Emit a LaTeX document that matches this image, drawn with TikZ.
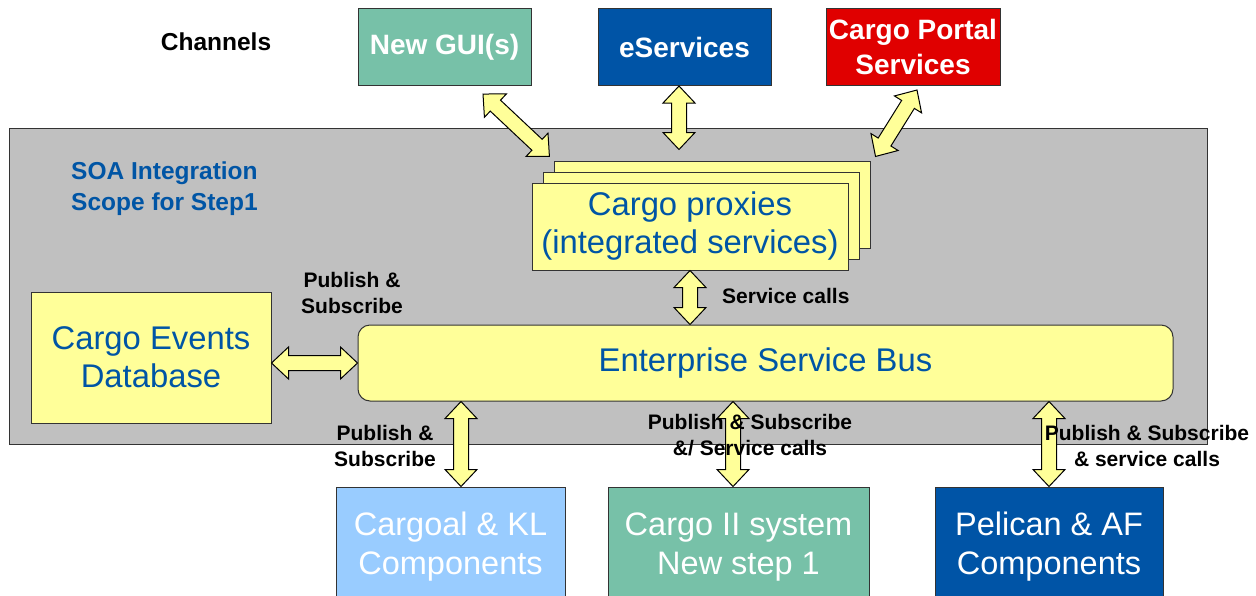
\documentclass[tikz,border=0pt]{standalone}
\usepackage{fontspec}
\setmainfont{Liberation Sans}
\usetikzlibrary{calc}
\definecolor{panelgray}{HTML}{C0C0C0}
\definecolor{lightyellow}{HTML}{FFFF99}
\definecolor{tealbox}{HTML}{77C1A8}
\definecolor{darkblue}{HTML}{0054A6}
\definecolor{redbox}{HTML}{E00000}
\definecolor{skyblue}{HTML}{99CCFF}
\definecolor{textblue}{HTML}{0055A5}
\definecolor{edge}{HTML}{333333}
\tikzset{
  box/.style={draw=edge, line width=1pt, rectangle, inner sep=0pt, align=center},
  chanbox/.style={box, minimum height=77pt, text=white, font=\fontsize{28}{35}\selectfont\bfseries},
  sysbox/.style={box, minimum height=120pt, text=white, font=\fontsize{32.5}{39}\selectfont},
  ybox/.style={box, fill=lightyellow, text=textblue, font=\fontsize{32.8}{38}\selectfont},
  blockarrow/.style={draw=black, line width=1pt, fill=lightyellow, line join=miter},
  lbl/.style={align=center, inner sep=0pt, font=\fontsize{21}{25.5}\selectfont\bfseries}
}
\newcommand{\dblarrow}[2]{%
  \path[blockarrow] let \p1=($(#2)-(#1)$), \n1={atan2(\y1,\x1)}, \n2={veclen(\x1,\y1)}, \n3={veclen(\x1,\y1)-17} in
  [shift={(#1)}, rotate=\n1] (0,0) -- (17,16) -- (17,7.5) -- (\n3,7.5) -- (\n3,16) -- (\n2,0) -- (\n3,-16) -- (\n3,-7.5) -- (17,-7.5) -- (17,-16) -- cycle;}
\begin{document}
\begin{tikzpicture}[x=1pt, y=-1pt]
\useasboundingbox (0,0) rectangle (1256,595);
\clip (0,0) rectangle (1256,595);
% scope panel
\node[box, fill=panelgray, minimum width=1198pt, minimum height=316pt] (panel) at (608,286) {};
% channels
\node[font=\fontsize{24.5}{30}\selectfont\bfseries, inner sep=0pt] (chan) at (216,42) {Channels};
\node[chanbox, fill=tealbox, minimum width=173pt] (gui) at (444.5,47) {New GUI(s)};
\node[chanbox, fill=darkblue, minimum width=173pt] (eserv) at (684.5,47) {eServices};
\node[chanbox, fill=redbox, minimum width=174pt] (portal) at (913,47) {Cargo Portal\\Services};
% scope title
\node[anchor=west, align=left, inner sep=0pt, text=textblue, font=\fontsize{24.5}{31}\selectfont\bfseries] (soa) at (71,189) {SOA Integration\\Scope for Step1};
% proxies (stacked)
\node[ybox, minimum width=316pt, minimum height=87pt] (proxback) at (712,204.5) {};
\node[ybox, minimum width=316pt, minimum height=87pt] (proxmid) at (701,215.5) {};
\node[ybox, minimum width=316pt, minimum height=87pt] (prox) at (690,226.5) {Cargo proxies\\(integrated services)};
% ESB and database
\node[ybox, rounded corners=12pt, minimum width=815pt, minimum height=76pt] (esb) at (765.5,363) {Enterprise Service Bus};
\node[ybox, minimum width=240pt, minimum height=131pt] (db) at (151,357.5) {Cargo Events\\Database};
% systems
\node[sysbox, fill=skyblue, minimum width=229pt] (cargoal) at (450.5,547) {Cargoal \& KL\\Components};
\node[sysbox, fill=tealbox, minimum width=261pt] (cargo2) at (738.5,547) {Cargo II system\\New step 1};
\node[sysbox, fill=darkblue, minimum width=228pt] (pelican) at (1049,547) {Pelican \& AF\\Components};
% arrow end points
\coordinate (g1) at ($(gui.south)+(38.5,8)$);
\coordinate (g2) at ($(proxback.north west)+(-4,-4)$);
\coordinate (e1) at ($(eserv.south)+(-5.5,0)$);
\coordinate (e2) at ($(e1 |- proxback.north)+(0,-11)$);
\coordinate (p1) at ($(portal.south)+(4,4)$);
\coordinate (p2) at ($(proxback.north east)+(5,-4)$);
\coordinate (s1) at (prox.south);
\coordinate (s2) at (prox.south |- esb.north);
\coordinate (d1) at (db.east |- esb.west);
\coordinate (k1) at ($(cargoal.north)+(10.5,0)$);
\coordinate (k2) at (k1 |- esb.south);
\coordinate (c1) at ($(cargo2.north)+(-5.5,0)$);
\coordinate (c2) at (c1 |- esb.south);
\coordinate (f1) at (pelican.north);
\coordinate (f2) at (f1 |- esb.south);
% arrows
\dblarrow{g1}{g2}
\dblarrow{e1}{e2}
\dblarrow{p1}{p2}
\dblarrow{s1}{s2}
\dblarrow{d1}{esb.west}
\dblarrow{k2}{k1}
\dblarrow{c2}{c1}
\dblarrow{f2}{f1}
% labels
\node[lbl] (lpubtop) at (352,293) {Publish \&\\Subscribe};
\node[lbl, anchor=west] (lsvc) at (722,296) {Service calls};
\node[lbl] (lpubl) at (385,446) {Publish \&\\Subscribe};
\node[lbl] (lpubm) at (750,435) {Publish \& Subscribe\\\&/ Service calls};
\node[lbl] (lpubr) at (1147,446) {Publish \& Subscribe\\\& service calls};
\end{tikzpicture}
\end{document}
